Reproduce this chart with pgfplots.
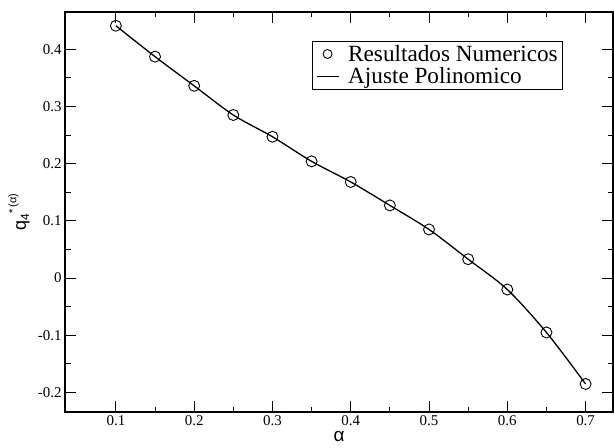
\documentclass[border=0pt]{standalone}
\usepackage{pgfplots}
\pgfplotsset{compat=1.18}
\usepackage{fontspec}
\setmainfont{Liberation Serif}
\newfontfamily\sansf{Liberation Sans}
\usetikzlibrary{calc}

\pgfplotsset{
  lineleg/.style={legend image code/.code={\draw[##1] (0bp,0bp) -- (22bp,0bp); \path (30bp,0bp);}},
  markleg/.style={legend image code/.code={\draw[mark size=4.5bp,##1] plot coordinates {(11bp,0bp)}; \path (0bp,0bp) (30bp,0bp);}},
}

\pgfplotstableread{
x y
0.10 0.441
0.15 0.387
0.20 0.336
0.25 0.285
0.30 0.247
0.35 0.204
0.40 0.168
0.45 0.127
0.50 0.085
0.55 0.033
0.60 -0.020
0.65 -0.095
0.70 -0.185
}\data

\begin{document}
\begin{tikzpicture}
\begin{axis}[
  scale only axis, width=548bp, height=400bp,
  xmin=0.035, xmax=0.735, ymin=-0.234, ymax=0.465,
  xtick={0.1,0.2,0.3,0.4,0.5,0.6,0.7},
  ytick={-0.2,-0.1,0,0.1,0.2,0.3,0.4},
  minor x tick num=1, minor y tick num=1,
  tick align=inside,
  major tick length=11bp, minor tick length=5.5bp,
  axis line style={line width=1.6bp},
  every tick/.style={black, line width=1bp},
  tick label style={font=\fontsize{15}{17}\selectfont},
  /pgf/number format/assume math mode=true,
  xlabel={\sansf\fontsize{19}{19}\selectfont α},
  xlabel style={at={(axis description cs:0.5,-0.062)}, anchor=center},
  ylabel={\sansf\fontsize{18}{18}\selectfont q\raisebox{-0.35ex}{\fontsize{12}{12}\selectfont 4}\raisebox{1.0ex}{\fontsize{11}{11}\selectfont *\,(α)}},
  ylabel style={at={(axis description cs:-0.084,0.5)}, anchor=center},
  legend style={at={(0.909,0.928)}, anchor=north east, draw=black, line width=0.8bp,
    font=\fontsize{23.3}{25}\selectfont, row sep=3bp, inner xsep=4bp, inner ysep=3bp,
    nodes={inner sep=1bp}},
  legend cell align=left,
  reverse legend,
]
\addplot[black, line width=1.3bp, smooth, no markers, lineleg] table {\data};
\addlegendentry{Ajuste Polinomico}
\addplot[only marks, mark=o, mark size=5.5bp, mark options={fill=white, line width=0.9bp, draw=black}, markleg] table {\data};
\addlegendentry{Resultados Numericos}
\coordinate (sw) at (rel axis cs:0,0);
\coordinate (ne) at (rel axis cs:1,1);
\end{axis}
\pgfresetboundingbox
\path[use as bounding box] ($(sw)+(-65bp,-35bp)$) rectangle ($(ne)+(1bp,12bp)$);
\end{tikzpicture}
\end{document}
